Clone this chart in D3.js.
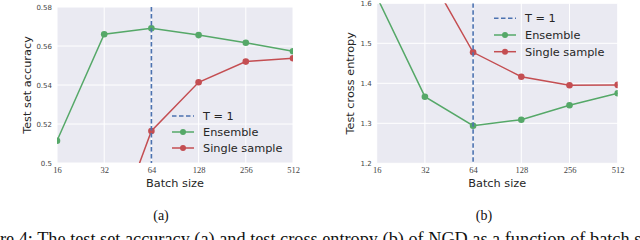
<!DOCTYPE html>
<html>
<head>
<meta charset="utf-8">
<script src="https://cdn.jsdelivr.net/npm/d3@7"></script>
<style>
  html, body { margin: 0; padding: 0; background: #fff; }
  svg { display: block; }
  .ytick text { font-family: "DejaVu Sans", sans-serif; font-size: 7px; fill: #444; }
  .xtick text { font-family: "Liberation Serif", serif; font-size: 8.5px; fill: #444; }
  .lab { font-family: "DejaVu Sans", sans-serif; font-size: 11.3px; fill: #262626; }
  .leg { font-family: "DejaVu Sans", sans-serif; font-size: 11.3px; fill: #262626; }
  .cap { font-family: "Liberation Serif", "Times New Roman", serif; fill: #111; }
</style>
</head>
<body>
<div id="chart"></div>
<script>
// batch sizes (log2 x axis)
const batchSizes = [16, 32, 64, 128, 256, 512];
const xTickLabels = ["16", "32", "64", "128", "256", "512"];

// (a) test set accuracy
const accEnsemble = [0.5114, 0.5660, 0.5691, 0.5656, 0.5617, 0.5573];
const accSingle   = [null, 0.451, 0.5164, 0.5414, 0.5520, 0.5537];
const accTicks = [0.5, 0.52, 0.54, 0.56, 0.58];

// (b) test cross entropy
const ceEnsemble = [1.617, 1.3665, 1.294, 1.309, 1.345, 1.375];
const ceSingle   = [null, 1.69, 1.4775, 1.4165, 1.395, 1.396];
const ceTicks = [1.2, 1.3, 1.4, 1.5, 1.6];

const tempBatch = 64; // T = 1 marker
const legendLabels = ["T = 1", "Ensemble", "Single sample"];

const green = "#55A868", red = "#C44E52", blue = "#4C72B0";

const svg = d3.select("#chart").append("svg")
    .attr("width", 640)
    .attr("height", 240);

function panel(id, opt) {
    const x = d3.scaleLog().base(2).domain([16, 512]).range([opt.x0, opt.x1]);
    const y = d3.scaleLinear().domain(opt.yDomain).range([opt.y1, opt.y0]);

    const g = svg.append("g");

    g.append("clipPath").attr("id", "clip" + id)
      .append("rect")
        .attr("x", opt.x0).attr("y", opt.y0)
        .attr("width", opt.x1 - opt.x0).attr("height", opt.y1 - opt.y0);

    g.append("rect")
        .attr("x", opt.x0).attr("y", opt.y0)
        .attr("width", opt.x1 - opt.x0).attr("height", opt.y1 - opt.y0)
        .attr("fill", "#EAEAF2");

    // grid
    g.selectAll(".gy").data(opt.yTicks).enter().append("line")
        .attr("x1", opt.x0).attr("x2", opt.x1)
        .attr("y1", d => y(d)).attr("y2", d => y(d))
        .attr("stroke", "#fff").attr("stroke-width", 1);
    g.selectAll(".gx").data(batchSizes).enter().append("line")
        .attr("x1", d => x(d)).attr("x2", d => x(d))
        .attr("y1", opt.y0).attr("y2", opt.y1)
        .attr("stroke", "#fff").attr("stroke-width", 1);

    // axes (labels only)
    const ya = g.append("g").attr("class", "ytick")
        .attr("transform", `translate(${opt.x0},0)`)
        .call(d3.axisLeft(y).tickValues(opt.yTicks).tickSize(0).tickPadding(5)
            .tickFormat(d => String(+d.toFixed(2))));
    ya.select(".domain").remove();

    const xa = g.append("g").attr("class", "xtick")
        .attr("transform", `translate(0,${opt.y1})`)
        .call(d3.axisBottom(x).tickValues(batchSizes).tickSize(0).tickPadding(4)
            .tickFormat((d, i) => xTickLabels[i]));
    xa.select(".domain").remove();

    g.append("text").attr("class", "lab")
        .attr("x", (opt.x0 + opt.x1) / 2).attr("y", 187)
        .attr("text-anchor", "middle")
        .text("Batch size");
    g.append("text").attr("class", "lab")
        .attr("transform", `translate(${opt.ylabX},${(opt.y0 + opt.y1) / 2}) rotate(-90)`)
        .attr("text-anchor", "middle")
        .attr("dy", "0.35em")
        .text(opt.ylabel);

    const plot = g.append("g").attr("clip-path", `url(#clip${id})`);

    const series = [
        { vals: opt.single, color: red },
        { vals: opt.ensemble, color: green }
    ];
    series.forEach(s => {
        const pts = batchSizes.map((b, i) => [b, s.vals[i]]);
        const line = d3.line()
            .defined(d => d[1] != null)
            .x(d => x(d[0])).y(d => y(d[1]));
        plot.append("path").datum(pts)
            .attr("d", line)
            .attr("fill", "none")
            .attr("stroke", s.color)
            .attr("stroke-width", 1.5);
        plot.selectAll(null).data(pts.filter(d => d[1] != null)).enter().append("circle")
            .attr("cx", d => x(d[0])).attr("cy", d => y(d[1]))
            .attr("r", 3.3)
            .attr("fill", s.color);
    });

    plot.append("line")
        .attr("x1", x(tempBatch)).attr("x2", x(tempBatch))
        .attr("y1", opt.y0).attr("y2", opt.y1)
        .attr("stroke", blue).attr("stroke-width", 1.6)
        .attr("stroke-dasharray", "4.5,2.5");

    // legend
    const lg = g.append("g");
    legendLabels.forEach((t, i) => {
        const yy = opt.legY + i * opt.legStep;
        const c = i === 0 ? blue : (i === 1 ? green : red);
        lg.append("line")
            .attr("x1", opt.legX).attr("x2", opt.legX + 22)
            .attr("y1", yy).attr("y2", yy)
            .attr("stroke", c).attr("stroke-width", 1.5)
            .attr("stroke-dasharray", i === 0 ? "4.5,2.5" : null);
        if (i > 0) {
            lg.append("circle").attr("cx", opt.legX + 11).attr("cy", yy)
                .attr("r", 3).attr("fill", c);
        }
        lg.append("text").attr("class", "leg")
            .attr("x", opt.legX + 31).attr("y", yy)
            .attr("dy", "0.35em")
            .text(t);
    });
}

panel("a", {
    x0: 57, x1: 293, y0: 7, y1: 163,
    yDomain: [0.5, 0.58], yTicks: accTicks,
    ensemble: accEnsemble, single: accSingle,
    ylabel: "Test set accuracy", ylabX: 27,
    legX: 172, legY: 116, legStep: 16
});

panel("b", {
    x0: 376.7, x1: 617.7, y0: 3.3, y1: 163.3,
    yDomain: [1.2, 1.6], yTicks: ceTicks,
    ensemble: ceEnsemble, single: ceSingle,
    ylabel: "Test cross entropy", ylabX: 350,
    legX: 494, legY: 18.3, legStep: 16.7
});

// sub-captions
svg.append("text").attr("class", "cap").attr("font-size", 14)
    .attr("x", 161).attr("y", 219.5).attr("text-anchor", "middle").text("(a)");
svg.append("text").attr("class", "cap").attr("font-size", 14)
    .attr("x", 484).attr("y", 219.5).attr("text-anchor", "middle").text("(b)");

// figure caption, cut off at the edges like the source crop
const cap = svg.append("text").attr("class", "cap")
    .attr("font-size", 15).attr("y", 245)
    .text("Figure 4: The test set accuracy (a) and test cross entropy (b) of NGD as a function of batch size.");
const full = cap.node();
const pre = full.getSubStringLength(0, 4);              // "Figu" hidden off the left edge
const vis = full.getSubStringLength(4, "re 4: The test set accuracy (a) and test cross entropy (b) of NGD as a function of batch s".length);
const fs = 15 * 642 / vis;
cap.attr("font-size", fs).attr("x", -pre * fs / 15);
</script>
</body>
</html>
